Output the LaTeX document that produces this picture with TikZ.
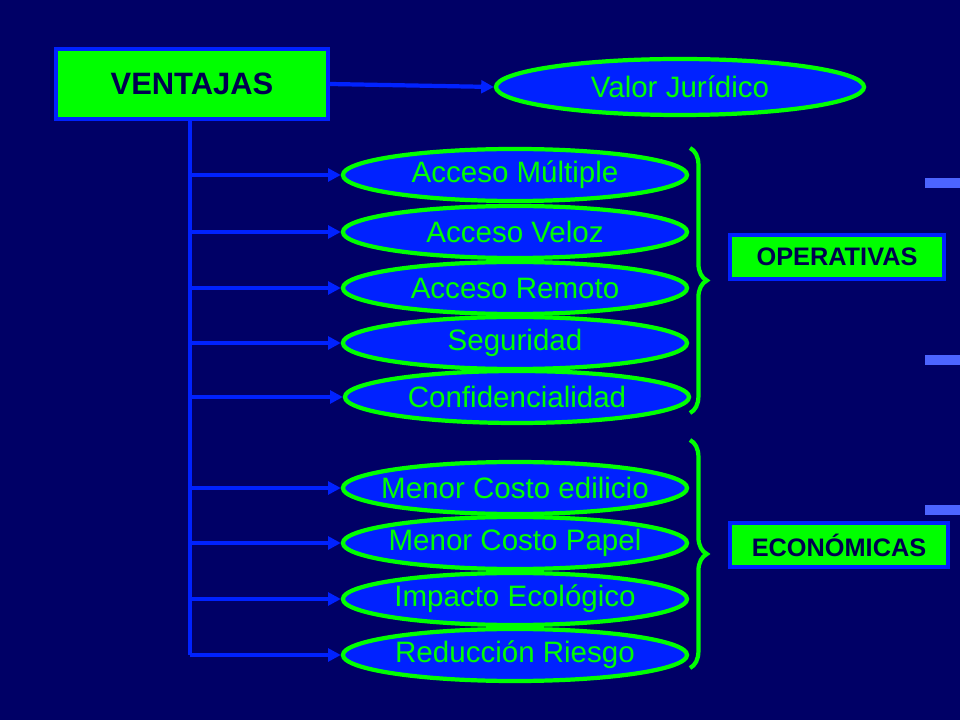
\documentclass[tikz,border=0pt]{standalone}
\usepackage{fontspec}
\setmainfont{Liberation Sans}
\usetikzlibrary{shapes.geometric,decorations.pathreplacing,arrows.meta}
\definecolor{fondo}{HTML}{000066}
\definecolor{azul}{HTML}{0022FF}
\definecolor{verde}{HTML}{00FF00}
\definecolor{tinta}{HTML}{000050}
\tikzset{
  caja/.style={draw=azul,fill=verde,line width=3pt,text=tinta,font=\bfseries},
  elipse/.style={ellipse,draw=verde,fill=azul,line width=3pt,text=verde,
    minimum width=8.6cm,minimum height=1.3cm,inner xsep=-1.3cm,inner ysep=0pt,font=\fontsize{21}{24}\selectfont},
  flecha/.style={azul,line width=3pt,-{Triangle[length=9pt,width=9pt]}},
  llave/.style={verde,line width=3pt,decorate,decoration={brace,amplitude=12pt}}
}
\begin{document}
\begin{tikzpicture}[x=0.025cm,y=-0.025cm]
  \fill[fondo] (0,0) rectangle (960,720);
  % decorative streaks
  \foreach \y in {355,505}
    \fill[azul!70!white] (925,\y) rectangle (960,\y+10);
  \fill[azul!70!white] (925,178) rectangle (960,188);

  \node[caja,minimum width=6.8cm,minimum height=1.75cm,font=\fontsize{22}{24}\selectfont\bfseries] (ventajas) at (192,84) {VENTAJAS};
  \node[elipse,minimum width=9.2cm,minimum height=1.4cm] (valor) at (680,87) {Valor Jurídico};

  \node[elipse] (e1) at (515,175) {Acceso Múltiple};
  \node[elipse] (e2) at (515,232) {Acceso Veloz};
  \node[elipse] (e3) at (515,288) {Acceso Remoto};
  \node[elipse] (e4) at (515,343) {Seguridad};
  \node[elipse] (e5) at (517,397) {Confidencialidad};
  \node[elipse] (e6) at (515,488) {Menor Costo edilicio};
  \node[elipse] (e7) at (515,543) {Menor Costo Papel};
  \node[elipse] (e8) at (515,599) {Impacto Ecológico};
  \node[elipse] (e9) at (515,655) {Reducción Riesgo};

  \node[caja,minimum width=5.35cm,minimum height=1.1cm,font=\fontsize{18}{20}\selectfont\bfseries] (operativas) at (837,257) {OPERATIVAS};
  \node[caja,minimum width=5.45cm,minimum height=1.1cm,font=\fontsize{18}{20}\selectfont\bfseries] (economicas) at (839,545) {ECONÓMICAS};

  \coordinate (tronco) at (190,120);
  \coordinate (pie) at (190,655);
  \draw[azul,line width=3pt] (tronco) -- (pie);
  \draw[flecha] (ventajas.east) -- (valor.west);
  \foreach \n in {e1,e2,e3,e4,e5,e6,e7,e8,e9}
    \draw[flecha] (tronco |- \n.west) -- (\n.west);

  \coordinate (a1) at (690,148);
  \coordinate (a2) at (690,413);
  \coordinate (b1) at (690,440);
  \coordinate (b2) at (690,668);
  \draw[llave] (a1) -- (a2);
  \draw[llave] (b1) -- (b2);
\end{tikzpicture}
\end{document}
